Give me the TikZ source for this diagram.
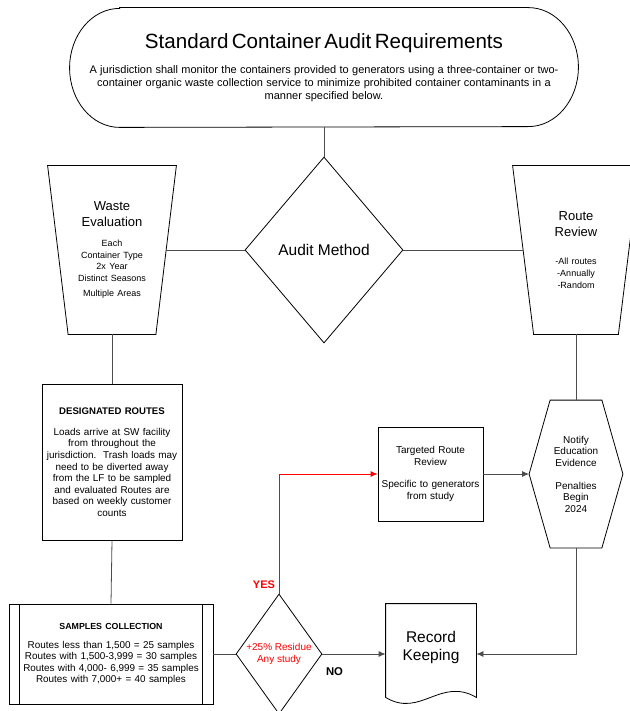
\documentclass[tikz,border=0pt]{standalone}
\usepackage{fontspec}
\setmainfont{Liberation Sans}
\usetikzlibrary{shapes.geometric,arrows.meta}
\newcommand{\fs}[2]{\fontsize{#1}{#2}\selectfont}

\begin{document}
\begin{tikzpicture}[x=1pt, y=-1pt, line width=0.8pt,
    box/.style={rectangle, inner sep=0pt, align=center},
    conn/.style={black!70},
    arr/.style={-{Latex[length=7pt,width=6pt]}}]
    \useasboundingbox (0,0) rectangle (629,711);

    % 顶部说明
    \node[box, minimum width=508pt, minimum height=119pt, text width=490pt] (top) at (324,67.5)
        {\fs{20.6}{24}Standard Container Audit Requirements\par\vspace{11.7pt}\fs{11}{13.3}A jurisdiction shall monitor the containers provided to generators using a three-container or two-\\container organic waste collection service to minimize prohibited container contaminants in a\\manner specified below.\par};
    \draw ([xshift=50pt]top.north west) -- ([xshift=-50pt]top.north east)
        arc[start angle=90, end angle=-90, x radius=50pt, y radius=59.5pt]
        -- ([xshift=50pt]top.south west)
        arc[start angle=270, end angle=90, x radius=50pt, y radius=59.5pt] -- cycle;

    % 审核方式
    \node[draw, diamond, minimum width=158pt, minimum height=186pt, inner sep=0pt, font=\fs{15.5}{18}] (audit) at (324,250) {Audit Method};

    % 左右两个梯形
    \node[box, minimum width=107.5pt, minimum height=168pt, text width=100pt] (waste) at (112,250)
        {\fs{13}{16}Waste\\Evaluation\par\vspace{8.3pt}\fs{9}{11.7}Each\\Container Type\\2x Year\\Distinct Seasons\\[3.3pt]Multiple Areas\par};
    \draw ([xshift=-10.25pt]waste.north west) -- ([xshift=10.25pt]waste.north east)
        -- ([xshift=-10.25pt]waste.south east) -- ([xshift=10.25pt]waste.south west) -- cycle;
    \node[box, minimum width=105pt, minimum height=168pt, text width=100pt] (review) at (576,250)
        {\fs{13}{16}Route\\Review\par\vspace{16pt}\fs{9}{12}-All routes\\-Annually\\-Random\par};
    \draw ([xshift=-10.5pt]review.north west) -- ([xshift=10.5pt]review.north east)
        -- ([xshift=-10.5pt]review.south east) -- ([xshift=10.5pt]review.south west) -- cycle;

    % 左侧方框
    \node[box, draw, minimum width=140pt, minimum height=156pt, text width=134pt] (desig) at (112,462)
        {\fs{9.6}{11.6}\bfseries DESIGNATED ROUTES\par\vspace{9.4pt}\mdseries\fs{9.9}{11.6}Loads arrive at SW facility\\from throughout the\\jurisdiction.\ \ Trash loads may\\need to be diverted away\\from the LF to be sampled\\and evaluated Routes are\\based on weekly customer\\counts\par};
    \node[box, draw, minimum width=204pt, minimum height=100pt, text width=180pt] (samp) at (111,654)
        {\fs{8.8}{11}\bfseries SAMPLES COLLECTION\par\vspace{7.7pt}\mdseries\fs{9.9}{11.3}Routes less than 1,500 = 25 samples\\Routes with 1,500-3,999 = 30 samples\\Routes with 4,000- 6,999 = 35 samples\\Routes with 7,000+ = 40 samples\par};
    \draw ([xshift=11pt]samp.north west) -- ([xshift=11pt]samp.south west);
    \draw ([xshift=-11pt]samp.north east) -- ([xshift=-11pt]samp.south east);

    % 判断
    \node[draw, diamond, minimum width=86pt, minimum height=120pt, inner sep=0pt] (dec) at (279,654) {};
    \node[align=center, text=red, font=\fs{10}{12}] (dectxt) at (dec.center) {+25\% Residue\\Any study};
    \node[text=red, font=\fs{11}{13}\bfseries] (yes) at (264,585) {YES};
    \node[font=\fs{11.3}{13}\bfseries] (no) at (334.5,672) {NO};

    % 右侧
    \node[box, draw, minimum width=105pt, minimum height=94pt, text width=103pt] (target) at (430.5,474)
        {\fs{10}{11.4}Targeted Route\\Review\\[11.4pt]Specific to generators\\from study\par};
    \node[box, minimum width=93pt, minimum height=147pt, text width=80pt] (hex) at (576,474)
        {\fs{10}{11.5}Notify\\Education\\Evidence\\[11.5pt]Penalties\\Begin\\2024\par};
    \draw ([xshift=21pt]hex.north west) -- ([xshift=-21pt]hex.north east) -- (hex.east)
        -- ([xshift=-21pt]hex.south east) -- ([xshift=21pt]hex.south west) -- (hex.west) -- cycle;
    \node[box, minimum width=90pt, minimum height=86pt, text width=88pt] (rec) at (431,647)
        {\fs{15.5}{18}Record\\Keeping\par};
    \draw (rec.north west) -- (rec.north east) -- ([yshift=-7pt]rec.south east)
        .. controls ([xshift=-36pt,yshift=14pt]rec.south east) and ([xshift=-56pt,yshift=-28pt]rec.south east) .. ([yshift=-7pt]rec.south west) -- cycle;

    % 连线
    \draw[conn] (top.south) -- (audit.north);
    \draw[conn] (waste.east) -- (audit.west);
    \draw[conn] (audit.east) -- (review.west);
    \draw[conn] (waste.south) -- (desig.north);
    \draw[conn] (review.south) -- (hex.north);
    \draw[conn] (desig.south) -- (samp.north);
    \draw[conn] (samp.east) -- (dec.west);
    \draw[conn, arr] (dec.east) -- (dec.east -| rec.west);
    \draw[conn, arr, red] (dec.north) |- (target.west);
    \draw[conn, arr] (target.east) -- (hex.west);
    \draw[conn, arr] (hex.south) |- (dec.east -| rec.east);
\end{tikzpicture}
\end{document}
